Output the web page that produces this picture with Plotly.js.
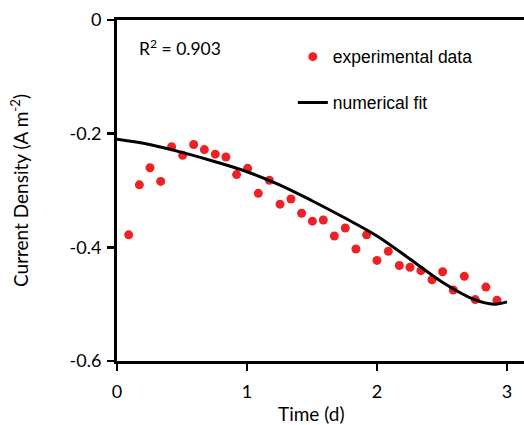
<!DOCTYPE html>
<html>
<head>
<meta charset="utf-8">
<script src="https://cdn.plot.ly/plotly-3.0.1.min.js"></script>
<style>html,body{margin:0;padding:0;background:#fff;}#chart{width:524px;height:425px;}</style>
</head>
<body>
<div id="chart"></div>
<script>
// Experimental data (time in days, current density in A m^-2)
const expTime = [0.09, 0.172, 0.254, 0.336, 0.42, 0.505, 0.59, 0.672, 0.756, 0.838, 0.92, 1.005, 1.087, 1.172, 1.254,
  1.338, 1.42, 1.503, 1.587, 1.672, 1.756, 1.838, 1.92, 2.0, 2.087, 2.172, 2.254, 2.338, 2.423, 2.505, 2.587, 2.672, 2.756, 2.838, 2.923];
const expCurrent = [-0.378, -0.290, -0.260, -0.284, -0.223, -0.238, -0.219, -0.228, -0.236, -0.241, -0.272, -0.261, -0.305, -0.282, -0.324,
  -0.315, -0.340, -0.354, -0.352, -0.380, -0.366, -0.403, -0.378, -0.423, -0.407, -0.432, -0.435, -0.441, -0.457, -0.443, -0.475, -0.451, -0.492, -0.470, -0.493];

// Numerical fit curve
const fitTime = [0, 0.25, 0.5, 0.75, 1.0, 1.25, 1.5, 1.75, 2.0, 2.25, 2.5, 2.75, 2.9, 3.0];
const fitCurrent = [-0.210, -0.219, -0.233, -0.249, -0.267, -0.290, -0.318, -0.348, -0.380, -0.420, -0.461, -0.492, -0.500, -0.496];

// Tick labels
const xTickVals = [0, 1, 2, 3];
const xTickText = ['0', '1', '2', '3'];
const yTickVals = [0, -0.2, -0.4, -0.6];
const yTickText = ['0', '-0.2', '-0.4', '-0.6'];

const calibriLike = 'Lato, "Open Sans", sans-serif';
const arialLike = '"Liberation Sans", Arial, sans-serif';

const traces = [
  {
    x: expTime, y: expCurrent, type: 'scatter', mode: 'markers',
    name: 'experimental data', legendgroup: 'a',
    marker: {color: '#ec2227', size: 9}
  },
  {
    x: fitTime, y: fitCurrent, type: 'scatter', mode: 'lines',
    name: 'numerical fit', legendgroup: 'b',
    line: {color: '#000000', width: 3, shape: 'spline', smoothing: 1}
  }
];

const layout = {
  width: 524, height: 425,
  margin: {l: 117, r: 0, t: 20, b: 64},
  paper_bgcolor: '#ffffff', plot_bgcolor: '#ffffff',
  showlegend: true,
  legend: {
    x: 0.432, y: 0.945, xanchor: 'left', yanchor: 'top',
    font: {family: arialLike, size: 17.5, color: '#000'},
    traceorder: 'grouped', tracegroupgap: 20,
    bgcolor: 'rgba(0,0,0,0)', borderwidth: 0
  },
  xaxis: {
    range: [0, 3.131], showgrid: false, zeroline: false,
    showline: true, linecolor: '#000', linewidth: 3, mirror: true,
    ticks: 'outside', ticklen: 7, tickwidth: 2.5, tickcolor: '#000',
    tickvals: xTickVals, ticktext: xTickText, ticklabelstandoff: 5,
    tickfont: {family: calibriLike, size: 18, color: '#000'}
  },
  yaxis: {
    range: [-0.6, 0], showgrid: false, zeroline: false,
    showline: true, linecolor: '#000', linewidth: 3, mirror: false,
    ticks: 'outside', ticklen: 7, tickwidth: 2.5, tickcolor: '#000',
    tickvals: yTickVals, ticktext: yTickText, ticklabelstandoff: 2,
    tickfont: {family: calibriLike, size: 18, color: '#000'},
    title: {text: 'Current Density (A m<sup>-2</sup>)', font: {family: calibriLike, size: 19, color: '#000'}, standoff: 36}
  },
  annotations: [
    {
      x: 0.154, y: -0.0475, xref: 'x', yref: 'y', xanchor: 'left', yanchor: 'middle',
      text: 'R<sup>2</sup> = 0.903', showarrow: false,
      font: {family: calibriLike, size: 17.5, color: '#000'}
    },
    {
      x: 1.5, y: -0.153, xref: 'x', yref: 'paper', xanchor: 'center', yanchor: 'middle',
      text: 'Time (d)', showarrow: false,
      font: {family: calibriLike, size: 19, color: '#000'}
    }
  ]
};

Plotly.newPlot('chart', traces, layout, {displayModeBar: false, staticPlot: true});
</script>
</body>
</html>
